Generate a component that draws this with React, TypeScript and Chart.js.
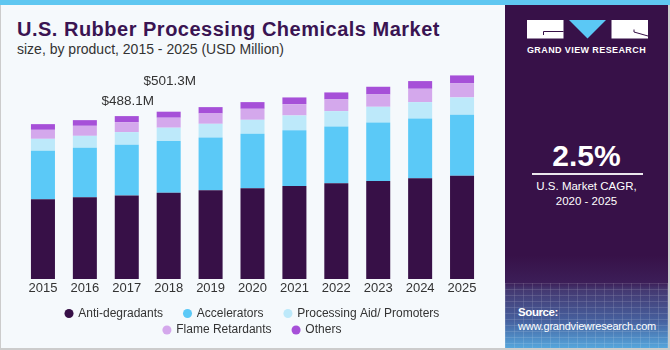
import { useEffect, useRef } from "react";
import { Chart, registerables } from "chart.js";

Chart.register(...registerables);

const years = ["2015", "2016", "2017", "2018", "2019", "2020", "2021", "2022", "2023", "2024", "2025"];
const antiDegradants = [239, 245, 250.1, 258.3, 266, 272, 279, 287, 294, 302, 309];
const accelerators = [145, 148, 152, 155, 158, 163, 167, 170, 175, 179, 183];
const processingAid = [36, 36, 38, 40, 41, 42, 44, 46, 47, 49, 52];
const flameRetardants = [27, 30, 30, 30, 31, 33, 34, 35, 37, 40, 42];
const others = [17, 17, 18, 18, 19, 20, 20, 21, 23, 23, 24];
const seriesNames = ["Anti-degradants", "Accelerators", "Processing Aid/ Promoters", "Flame Retardants", "Others"];
const seriesColors = ["#371047", "#5bc9f7", "#bde9fa", "#d4a8ec", "#a650d8"];
const labelYears = ["2017", "2018"];
const labelTexts = ["$488.1M", "$501.3M"];

const SANS = "'Liberation Sans', Arial, sans-serif";

const totalLabelPlugin = {
  id: "totalLabels",
  afterDatasetsDraw(chart: any) {
    const meta = chart.getDatasetMeta(chart.data.datasets.length - 1);
    const ctx = chart.ctx;
    ctx.save();
    ctx.font = `13.5px ${SANS}`;
    ctx.fillStyle = "#333333";
    ctx.textAlign = "center";
    ctx.textBaseline = "middle";
    labelYears.forEach((yr, i) => {
      const el = meta.data[years.indexOf(yr)];
      if (el) ctx.fillText(labelTexts[i], el.x + 1, el.y - 15 - 15 * i);
    });
    ctx.restore();
  },
};

export default function App() {
  const canvasRef = useRef<HTMLCanvasElement | null>(null);

  useEffect(() => {
    if (!canvasRef.current) return;
    const values = [antiDegradants, accelerators, processingAid, flameRetardants, others];
    const gapAfter = [true, true, false, true, false];
    const chart = new Chart(canvasRef.current, {
      type: "bar",
      data: {
        labels: years,
        datasets: values.map((v, i) => ({
          label: seriesNames[i],
          data: v,
          backgroundColor: seriesColors[i],
          borderWidth: 0,
          barPercentage: 0.573,
          categoryPercentage: 1,
        })),
      },
      options: {
        responsive: false,
        animation: false,
        devicePixelRatio: 1,
        layout: { padding: { top: 12, left: 22, right: 19, bottom: 4 } },
        scales: {
          x: {
            stacked: true,
            grid: { display: false, drawTicks: false },
            border: { display: false },
            ticks: { color: "#333333", font: { family: SANS, size: 13 }, padding: 2 },
            afterFit: (scale: any) => {
              scale.height = 24;
            },
          },
          y: {
            stacked: true,
            display: false,
            min: 0,
            max: 800,
          },
        },
        plugins: {
          tooltip: { enabled: false },
          legend: {
            position: "bottom",
            labels: {
              usePointStyle: true,
              boxWidth: 6.6,
              boxHeight: 6.4,
              padding: 4.5,
              color: "#333333",
              font: { family: SANS, size: 12 },
              generateLabels: (c: any) =>
                c.data.datasets.map((ds: any, i: number) => ({
                  text: ds.label + (gapAfter[i] ? "     " : ""),
                  fillStyle: seriesColors[i],
                  strokeStyle: seriesColors[i],
                  lineWidth: 0,
                  pointStyle: "circle",
                  hidden: false,
                  datasetIndex: i,
                  fontColor: "#333333",
                })),
            },
          },
        },
      },
      plugins: [totalLabelPlugin],
    });
    return () => chart.destroy();
  }, []);

  return (
    <div
      style={{
        position: "absolute",
        left: 0,
        top: 0,
        width: 670,
        height: 350,
        background: "#f5f9fc",
        overflow: "hidden",
        fontFamily: SANS,
      }}
    >
      <div style={{ position: "absolute", left: 0, top: 0, width: 670, height: 5, background: "#5fc7f1" }} />
      <div style={{ position: "absolute", left: 0, top: 5, width: 1, height: 345, background: "#cccccc" }} />
      <div style={{ position: "absolute", left: 0, top: 348, width: 670, height: 2, background: "#cccccc" }} />
      <div style={{ position: "absolute", left: 668, top: 5, width: 2, height: 345, background: "#cccccc" }} />

      <div
        style={{
          position: "absolute",
          left: 17,
          top: 18.5,
          fontSize: 20,
          lineHeight: "20px",
          fontWeight: 700,
          letterSpacing: 0.5,
          color: "#3a1452",
          whiteSpace: "nowrap",
        }}
      >
        U.S. Rubber Processing Chemicals Market
      </div>
      <div
        style={{
          position: "absolute",
          left: 17,
          top: 41.5,
          fontSize: 14,
          lineHeight: "14px",
          color: "#333333",
          whiteSpace: "nowrap",
        }}
      >
        size, by product, 2015 - 2025 (USD Million)
      </div>

      <canvas
        ref={canvasRef}
        width={502}
        height={350}
        style={{ position: "absolute", left: 0, top: 0, width: 502, height: 350 }}
      />

      <div
        style={{
          position: "absolute",
          left: 505,
          top: 5,
          width: 163,
          height: 343,
          background:
            "linear-gradient(to bottom, #371148 0%, #371148 73%, #3c1e58 81%, #443870 83%, #46609e 92%, #55a6dc 100%)",
          overflow: "hidden",
        }}
      >
        <div
          style={{
            position: "absolute",
            left: 0,
            top: 278,
            width: 163,
            height: 65,
            opacity: 0.35,
            backgroundImage:
              "repeating-linear-gradient(to right, rgba(255,255,255,0.35) 0px, rgba(255,255,255,0.35) 1px, transparent 1px, transparent 9px), repeating-linear-gradient(to bottom, rgba(255,255,255,0.35) 0px, rgba(255,255,255,0.35) 1px, transparent 1px, transparent 6px)",
          }}
        />
        <svg
          width={163}
          height={40}
          style={{ position: "absolute", left: 0, top: 0 }}
          viewBox="0 0 163 40"
        >
          <rect x={22} y={15} width={36.5} height={18.5} fill="#ffffff" />
          <polyline points="58.5,26.5 38.5,26.5 38.5,30" fill="none" stroke="#371148" strokeWidth={1} />
          <polygon points="64,15 101,15 82.5,33.5" fill="#5bc8f5" />
          <rect x={106.5} y={15} width={36.5} height={18.5} fill="#ffffff" />
          <polyline points="129,24.5 129,27 143,31" fill="none" stroke="#371148" strokeWidth={1} />
        </svg>
        <div
          style={{
            position: "absolute",
            left: 0,
            width: 163,
            top: 41.4,
            textAlign: "center",
            fontSize: 9,
            lineHeight: "9px",
            fontWeight: 700,
            letterSpacing: 0.4,
            color: "#ffffff",
            whiteSpace: "nowrap",
          }}
        >
          GRAND VIEW RESEARCH
        </div>
        <div
          style={{
            position: "absolute",
            left: 0,
            width: 163,
            top: 135.6,
            textAlign: "center",
            fontSize: 30,
            lineHeight: "30px",
            fontWeight: 700,
            color: "#ffffff",
          }}
        >
          2.5%
        </div>
        <div style={{ position: "absolute", left: 27, top: 168, width: 111, height: 1.5, background: "rgba(255,255,255,0.9)" }} />
        <div
          style={{
            position: "absolute",
            left: 0,
            width: 163,
            top: 176,
            textAlign: "center",
            fontSize: 11.5,
            lineHeight: "11.5px",
            color: "#ffffff",
            whiteSpace: "nowrap",
          }}
        >
          U.S. Market CAGR,
        </div>
        <div
          style={{
            position: "absolute",
            left: 0,
            width: 163,
            top: 191,
            textAlign: "center",
            fontSize: 11.5,
            lineHeight: "11.5px",
            color: "#ffffff",
            whiteSpace: "nowrap",
          }}
        >
          2020 - 2025
        </div>
        <div
          style={{
            position: "absolute",
            left: 13,
            top: 302,
            fontSize: 11.5,
            lineHeight: "11.5px",
            fontWeight: 700,
            letterSpacing: -0.4,
            color: "#ffffff",
            whiteSpace: "nowrap",
          }}
        >
          Source:
        </div>
        <div
          style={{
            position: "absolute",
            left: 13,
            top: 316,
            fontSize: 11,
            lineHeight: "11px",
            letterSpacing: -0.2,
            color: "#ffffff",
            whiteSpace: "nowrap",
          }}
        >
          www.grandviewresearch.com
        </div>
      </div>
    </div>
  );
}
